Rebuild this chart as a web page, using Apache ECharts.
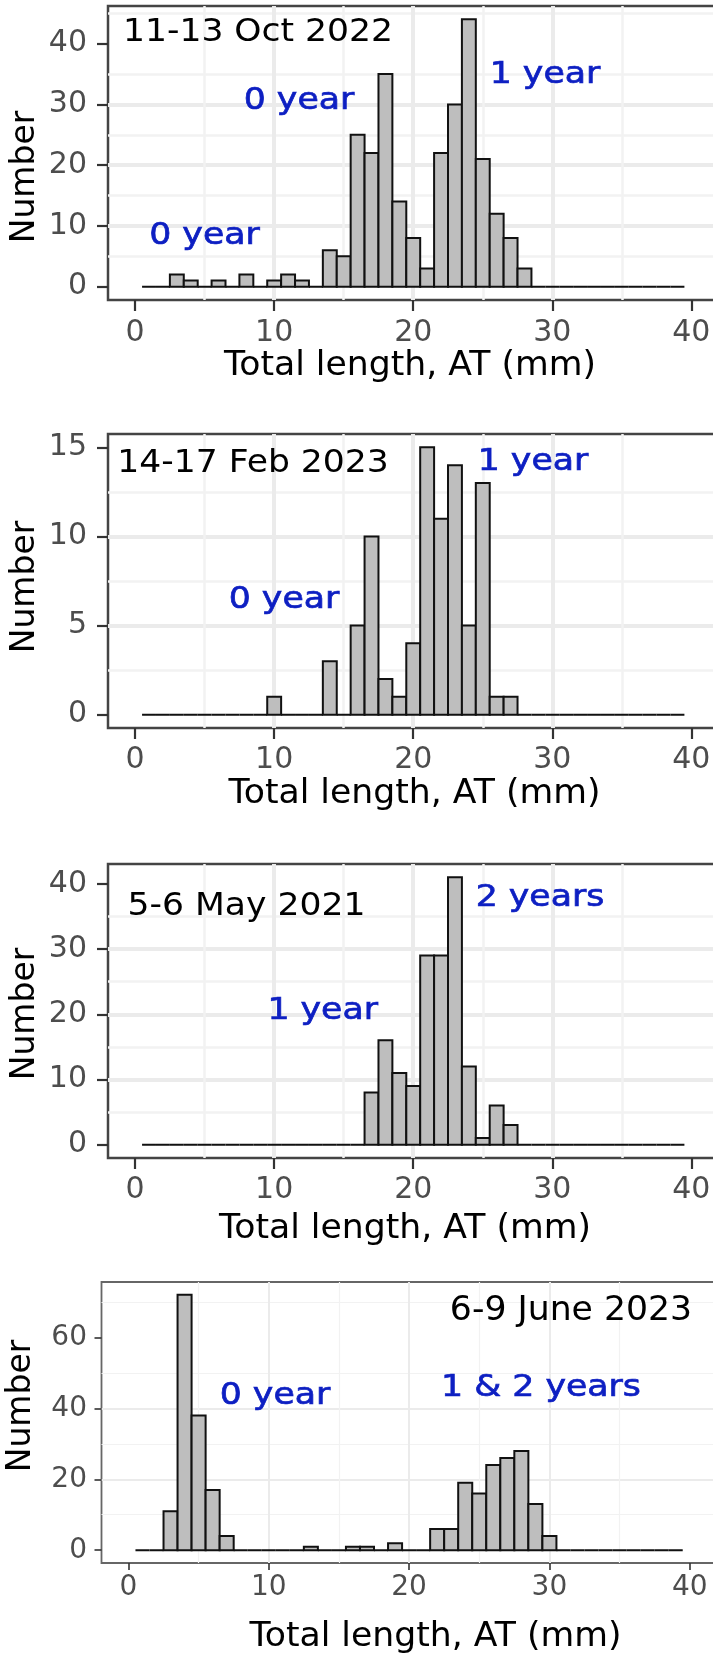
<!DOCTYPE html>
<html><head><meta charset="utf-8">
<script src="https://cdn.jsdelivr.net/npm/echarts@6/dist/echarts.min.js"></script>
<style>html,body{margin:0;padding:0;background:#fff}#c{width:713px;height:1659px}</style>
</head><body><div id="c"></div>
<script>
// ---- data (1 mm bins, centred on integer lengths) ----
const bins = [1,2,3,4,5,6,7,8,9,10,11,12,13,14,15,16,17,18,19,20,21,22,23,24,25,26,27,28,29,30,31,32,33,34,35,36,37,38,39];
const countsOct2022 = [0,0,2,1,0,1,0,2,0,1,2,1,0,6,5,25,22,35,14,8,3,22,30,44,21,12,8,3,0,0,0,0,0,0,0,0,0,0,0];
const countsFeb2023 = [0,0,0,0,0,0,0,0,0,1,0,0,0,3,0,5,10,2,1,4,15,11,14,5,13,1,1,0,0,0,0,0,0,0,0,0,0,0,0];
const countsMay2021 = [0,0,0,0,0,0,0,0,0,0,0,0,0,0,0,0,8,16,11,9,29,29,41,12,1,6,3,0,0,0,0,0,0,0,0,0,0,0,0];
const countsJun2023 = [0,0,11,72,38,17,4,0,0,0,0,0,1,0,0,1,1,0,2,0,0,6,6,19,16,24,26,28,13,4,0,0,0,0,0,0,0,0,0];

const xTicks = [0,10,20,30,40];
const yTicksOct = [0,10,20,30,40];
const yTicksFeb = [0,5,10,15];
const yTicksMay = [0,10,20,30,40];
const yTicksJun = [0,20,40,60];

const dateLabels = ['11-13 Oct 2022','14-17 Feb 2023','5-6 May 2021','6-9 June 2023'];
const ageLabels1 = [['0 year','1 year','0 year'],['0 year','1 year'],['1 year','2 years'],['0 year','1 & 2 years']];
const xTitle = 'Total length, AT (mm)';
const yTitle = 'Number';

// ---- layout ----
const FONT = 'DejaVu Sans';
const BLUE = '#0d1fc2';
const panels = [
  {counts: countsOct2022, yTicks: yTicksOct, yStep: 10, x:[-1.95,41.7], y:[-2.2,46.2], left:108, top:6, width:607, height:294,
   tickLen:11, labMarginY:21, labMarginX:33, tickFont:30, major:4, minor:2.5, border:2.5, borderColor:'#444'},
  {counts: countsFeb2023, yTicks: yTicksFeb, yStep: 5, x:[-1.95,41.7], y:[-0.75,15.75], left:108, top:434, width:607, height:294,
   tickLen:11, labMarginY:21, labMarginX:32, tickFont:30, major:4, minor:2.5, border:2.5, borderColor:'#444'},
  {counts: countsMay2021, yTicks: yTicksMay, yStep: 10, x:[-1.95,41.7], y:[-2.05,43.05], left:108, top:864, width:607, height:294,
   tickLen:11, labMarginY:21, labMarginX:32, tickFont:30, major:4, minor:2.5, border:2.5, borderColor:'#444'},
  {counts: countsJun2023, yTicks: yTicksJun, yStep: 20, x:[-1.92,41.8], y:[-3.6,75.6], left:101.5, top:1282, width:613.5, height:281,
   tickLen:7, labMarginY:14.5, labMarginX:25, tickFont:28, major:2, minor:1.2, border:1.8, borderColor:'#666'}
];

const texts = [
  // panel 1
  {t: dateLabels[0], x:258, y:32.5, s:32, c:'#000', k:1.08},
  {t: ageLabels1[0][0], x:299, y:101, s:31, c:BLUE, k:1.12},
  {t: ageLabels1[0][1], x:545, y:74.5, s:31, c:BLUE, k:1.12},
  {t: ageLabels1[0][2], x:204.5, y:235.5, s:31, c:BLUE, k:1.12},
  {t: xTitle, x:410, y:366, s:33, c:'#000', k:1.05},
  {t: yTitle, x:25, y:177, s:33, c:'#000', k:1, r:true},
  // panel 2
  {t: dateLabels[1], x:253, y:464, s:32, c:'#000', k:1.08},
  {t: ageLabels1[1][0], x:284, y:599.5, s:31, c:BLUE, k:1.12},
  {t: ageLabels1[1][1], x:533, y:461.5, s:31, c:BLUE, k:1.12},
  {t: xTitle, x:414.5, y:794.5, s:33, c:'#000', k:1.05},
  {t: yTitle, x:25, y:587, s:33, c:'#000', k:1, r:true},
  // panel 3
  {t: dateLabels[2], x:246.5, y:906.7, s:32, c:'#000', k:1.08},
  {t: ageLabels1[2][0], x:322.7, y:1011, s:31, c:BLUE, k:1.12},
  {t: ageLabels1[2][1], x:540, y:897.5, s:31, c:BLUE, k:1.12},
  {t: xTitle, x:405, y:1229, s:33, c:'#000', k:1.05},
  {t: yTitle, x:25, y:1014, s:33, c:'#000', k:1, r:true},
  // panel 4
  {t: dateLabels[3], x:571, y:1311.5, s:33, c:'#000', k:1.05},
  {t: ageLabels1[3][0], x:275, y:1396, s:31, c:BLUE, k:1.12},
  {t: ageLabels1[3][1], x:541, y:1387.5, s:31, c:BLUE, k:1.12},
  {t: xTitle, x:435.5, y:1637, s:33, c:'#000', k:1.05},
  {t: yTitle, x:21.5, y:1406, s:33, c:'#000', k:1, r:true}
];

const chart = echarts.init(document.getElementById('c'), null, {renderer:'canvas', width:713, height:1659});

const grids = [], xAxes = [], yAxes = [], series = [];
panels.forEach((p, i) => {
  grids.push({left:p.left, top:p.top, width:p.width, height:p.height, show:true,
    backgroundColor:'#fff', borderColor:p.borderColor, borderWidth:p.border,
    containLabel:false, outerBoundsMode:'none'});
  const common = (ticks, margin) => ({
    axisLine:{show:false, onZero:false},
    axisTick:{show:true, inside:false, length:p.tickLen, customValues:ticks, lineStyle:{color:'#333', width:p.major > 3 ? 2.2 : 1.6}},
    axisLabel:{customValues:ticks, fontFamily:FONT, fontSize:p.tickFont, color:'#4d4d4d', margin:margin},
    splitLine:{show:true, showMinLine:false, showMaxLine:false, lineStyle:{color:'#ebebeb', width:p.major}},
    minorTick:{show:false, splitNumber:2},
    minorSplitLine:{show:true, lineStyle:{color:'#f2f2f2', width:p.minor}}
  });
  const xa = Object.assign({type:'value', gridIndex:i, position:'bottom', min:p.x[0], max:p.x[1], minInterval:10, maxInterval:10}, common(xTicks, p.labMarginX));
  xa.axisLabel.verticalAlign = 'middle';
  xAxes.push(xa);
  yAxes.push(Object.assign({type:'value', gridIndex:i, position:'left', min:p.y[0], max:p.y[1], minInterval:p.yStep, maxInterval:p.yStep}, common(p.yTicks, p.labMarginY)));
  series.push({
    type:'custom', xAxisIndex:i, yAxisIndex:i, clip:false,
    data: bins.map((b, j) => [b, p.counts[j]]),
    encode:{x:0, y:1},
    renderItem: function(params, api){
      const x = api.value(0), n = api.value(1);
      const a = api.coord([x - 0.5, n]);
      const b = api.coord([x + 0.5, 0]);
      return {type:'rect', shape:{x:a[0], y:a[1], width:b[0]-a[0], height:b[1]-a[1]},
        style:{fill:'#bebebe', stroke:'#111', lineWidth:2}};
    }
  });
});

const graphic = texts.map(o => ({
  type:'text', x:o.x, y:o.y, rotation: o.r ? Math.PI/2 : 0, scaleX: o.r ? 1 : o.k, scaleY: o.r ? o.k : 1, z:100,
  style:{text:o.t, fontFamily:FONT, fontSize:o.s, fill:o.c, align:'center', verticalAlign:'middle',
    stroke: o.c === BLUE ? BLUE : null, lineWidth: o.c === BLUE ? 0.7 : 0}
}));

chart.setOption({animation:false, backgroundColor:'#fff', grid:grids, xAxis:xAxes, yAxis:yAxes, series:series, graphic:graphic});
</script>
</body></html>
